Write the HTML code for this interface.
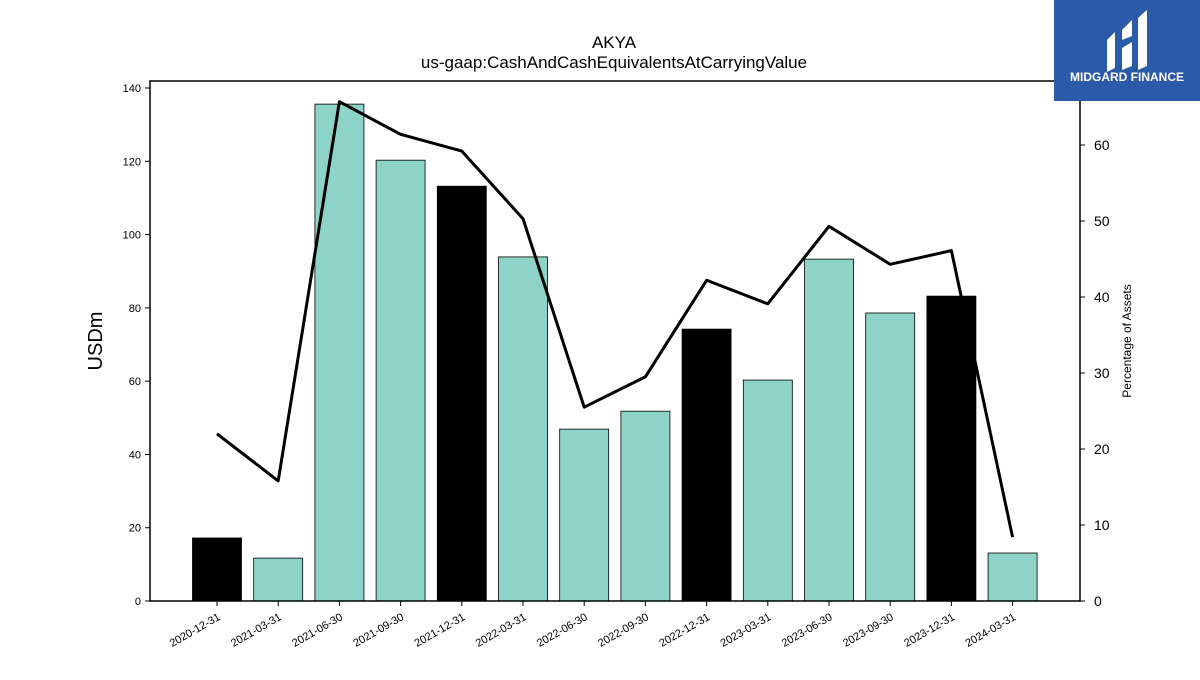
<!DOCTYPE html>
<html><head><meta charset="utf-8"><style>
body{margin:0;background:#fff;width:1200px;height:675px;overflow:hidden;font-family:"Liberation Sans",sans-serif}
</style></head><body>
<svg id="c" width="1200" height="675" xmlns="http://www.w3.org/2000/svg">
<text x="614" y="48" text-anchor="middle" font-size="17">AKYA</text>
<text x="614" y="68" text-anchor="middle" font-size="17">us-gaap:CashAndCashEquivalentsAtCarryingValue</text>
<g id="plot"></g>
<text transform="translate(102,341) rotate(-90)" text-anchor="middle" font-size="20">USDm</text>
<text transform="translate(1131,341) rotate(-90)" text-anchor="middle" font-size="12">Percentage of Assets</text>
<g>
<rect x="1054" y="0" width="146" height="101" fill="#2b5aa9"/>
<path d="M1107 40 L1115 32 L1115 68 L1107 72 Z M1122 30 L1132 20 L1132 36 L1122 40 Z M1122 48 L1132 42 L1132 66 L1122 70 Z M1138 18 L1147 10 L1147 66 L1138 70 Z" fill="#fff"/>
<text x="1127" y="81" text-anchor="middle" font-size="12" font-weight="bold" fill="#fff">MIDGARD FINANCE</text>
</g>
</svg>
<script>
const categories=["2020-12-31","2021-03-31","2021-06-30","2021-09-30","2021-12-31","2022-03-31","2022-06-30","2022-09-30","2022-12-31","2023-03-31","2023-06-30","2023-09-30","2023-12-31","2024-03-31"];
const cashValues=[17.2,11.7,135.6,120.3,113.2,93.9,46.9,51.8,74.2,60.3,93.3,78.6,83.2,13.1];
const pctAssets=[22.0,15.8,65.7,61.4,59.2,50.3,25.5,29.5,42.2,39.1,49.3,44.3,46.1,8.4];
const leftTicks=[0,20,40,60,80,100,120,140];
const rightTicks=[0,10,20,30,40,50,60];
const NS="http://www.w3.org/2000/svg";
const g=document.getElementById('plot');
const X0=150,X1=1080,Y0=601,Y1=81;
const step=61.2,first=217;
const xS=i=>first+i*step;
const yL=v=>Y0-v*(Y0-88)/140;
const yR=v=>Y0-v*(Y0-145)/60;
function mk(t,a){const e=document.createElementNS(NS,t);for(const k in a)e.setAttribute(k,a[k]);g.appendChild(e);return e;}
cashValues.forEach((v,i)=>{
 const black=categories[i].endsWith("12-31");
 const r=mk('rect',{x:xS(i)-24.5,y:yL(v),width:49,height:Y0-yL(v),fill:black?'#000':'#8dd3c7',stroke:'#000','stroke-width':0.8});
 
 
});
const pl=mk('polyline',{points:pctAssets.map((v,i)=>xS(i)+','+yR(v)).join(' '),fill:'none',stroke:'#000','stroke-width':3,'stroke-linejoin':'round'});


const fr=mk('rect',{x:X0,y:Y1,width:X1-X0,height:Y0-Y1,fill:'none',stroke:'#000','stroke-width':1.5});


leftTicks.forEach(v=>{
 mk('line',{x1:X0-5,x2:X0,y1:yL(v),y2:yL(v),stroke:'#000'});
 const t=mk('text',{x:X0-9,y:yL(v)+4,'text-anchor':'end','font-size':11});t.textContent=v;
 
 
});
rightTicks.forEach(v=>{
 mk('line',{x1:X1,x2:X1+5,y1:yR(v),y2:yR(v),stroke:'#000'});
 const t=mk('text',{x:X1+14,y:yR(v)+5,'font-size':14});t.textContent=v;
 
 
});
categories.forEach((c,i)=>{
 mk('line',{x1:xS(i),x2:xS(i),y1:Y0,y2:Y0+5,stroke:'#000'});
 const t=mk('text',{x:xS(i)+4,y:Y0+18,'text-anchor':'end','font-size':11,transform:`rotate(-30 ${xS(i)+4} ${Y0+18})`});t.textContent=c;
 
 
});
</script>
</body></html>
